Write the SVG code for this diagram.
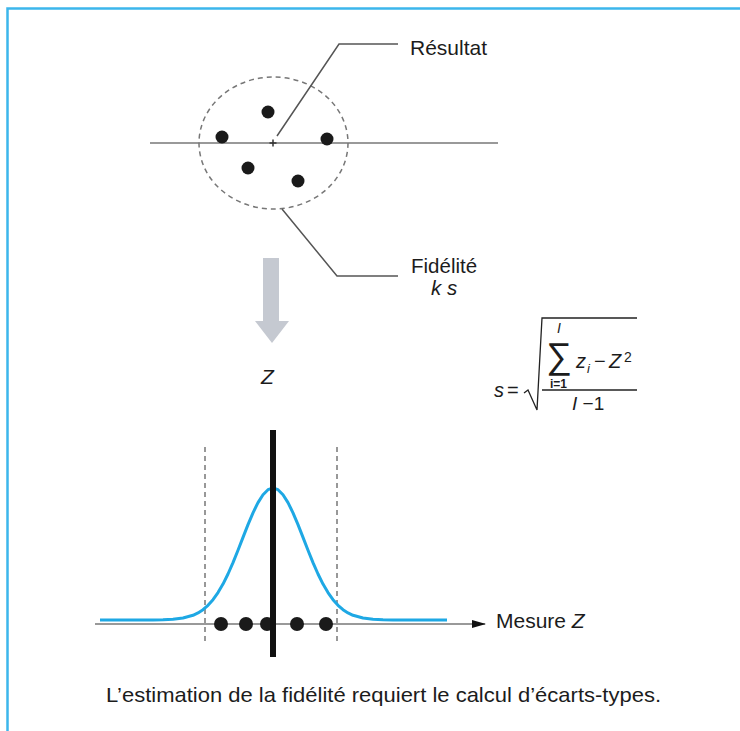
<svg xmlns="http://www.w3.org/2000/svg" width="740" height="731" viewBox="0 0 740 731">
<defs>
<style>
.t{font-family:"Liberation Sans",Arial,sans-serif;fill:#1c1c1c;}
.it{font-style:italic;}
.lead{fill:none;stroke:#555;stroke-width:1.5;}
.axis{fill:none;stroke:#777;stroke-width:1.5;}
.dot{fill:#1a1a1a;}
.dash{fill:none;stroke:#777;stroke-width:1.5;stroke-dasharray:5 4;}
</style>
<marker id="ah" markerWidth="14" markerHeight="10" refX="13" refY="5" orient="auto" markerUnits="userSpaceOnUse">
<path d="M0,1 L14,5 L0,9 Z" fill="#111"/>
</marker>
</defs>
<rect x="0" y="0" width="740" height="731" fill="#fff"/>
<g id="frame">
<path d="M7.5,731 L7.5,8.5 L740,8.5" fill="none" stroke="#3cb6ec" stroke-width="2.5"/>
</g>
<g id="target">
<line class="axis" x1="150" y1="143" x2="498" y2="143"/>
<ellipse cx="273.5" cy="143" rx="74.5" ry="66" class="dash"/>
<circle class="dot" cx="268" cy="112" r="6.5"/>
<circle class="dot" cx="222" cy="137" r="6.5"/>
<circle class="dot" cx="327" cy="139" r="6.5"/>
<circle class="dot" cx="248" cy="168" r="6.5"/>
<circle class="dot" cx="298" cy="181" r="6.5"/>
<path d="M269.5,143 h7 M273,139.5 v7" stroke="#333" stroke-width="1.5"/>
</g>
<g id="connectors">
<path class="lead" d="M277,136 L339,44 L398,44"/>
<path class="lead" d="M282,209 L337,276 L398,276"/>
</g>
<g id="label-resultat">
<text class="t" x="410" y="55" font-size="21">Résultat</text>
</g>
<g id="label-fidelite">
<text class="t" x="411" y="273" font-size="20.5">Fidélité</text>
<text class="t it" x="431" y="295" font-size="20.5">k s</text>
</g>
<g id="gray-arrow">
<polygon points="263,258 279,258 279,321 289,321 272,343 255,321 263,321" fill="#c5c9d1"/>
</g>
<g id="label-z">
<text class="t it" x="261" y="384" font-size="21">Z</text>
</g>
<g id="formula">
<text class="t it" x="494" y="397" font-size="20">s</text>
<text class="t" x="507" y="397" font-size="20">=</text>
<path d="M524,393 L528,390 L537,410 L542,318 L637,318" fill="none" stroke="#222" stroke-width="1.3"/>
<text class="t" x="546" y="368" font-size="36">∑</text>
<text class="t it" x="557" y="333" font-size="14">I</text>
<text class="t" x="550" y="388" font-size="12" font-weight="bold">i=1</text>
<text class="t it" x="576" y="368" font-size="20">z</text>
<text class="t it" x="587" y="373" font-size="13">i</text>
<text class="t" x="594" y="368" font-size="20">−</text>
<text class="t it" x="609" y="368" font-size="20">Z</text>
<text class="t" x="624" y="362" font-size="14">2</text>
<line x1="542" y1="390" x2="637" y2="390" stroke="#222" stroke-width="1.3"/>
<text class="t" x="572" y="410" font-size="19"><tspan class="it">I</tspan> −1</text>
</g>
<g id="distribution">
<line class="dash" x1="205" y1="447" x2="205" y2="642"/>
<line class="dash" x1="337" y1="447" x2="337" y2="642"/>
<polyline fill="none" stroke="#1ea8e4" stroke-width="3" stroke-linejoin="round" points="100,620 153,620 163,619.8 173,619.3 183,618 193,615.3 198,612.9 203,609.7 208,605.3 213,599.7 218,592.6 223,584.1 228,574 233,562.6 238,550.2 243,537.4 248,524.6 253,512.8 258,502.6 263,494.7 268,489.7 273,488 278,489.7 283,494.7 288,502.6 293,512.8 298,524.6 303,537.4 308,550.2 313,562.6 318,574 323,584.1 328,592.6 333,599.7 338,605.3 343,609.7 348,612.9 353,615.3 363,618 373,619.3 383,619.8 393,620 447,620"/>
<line class="axis" x1="95" y1="624" x2="485" y2="624" marker-end="url(#ah)"/>
<circle class="dot" cx="221" cy="624" r="7"/>
<circle class="dot" cx="246" cy="624" r="7"/>
<circle class="dot" cx="267" cy="624" r="7"/>
<circle class="dot" cx="297" cy="624" r="7"/>
<circle class="dot" cx="326" cy="624" r="7"/>
<rect x="270" y="430" width="6" height="227" fill="#111"/>
<text class="t" x="496" y="628" font-size="21">Mesure <tspan class="it">Z</tspan></text>
</g>
<g id="caption">
<text class="t" x="106" y="702" font-size="21" textLength="555" lengthAdjust="spacingAndGlyphs">L’estimation de la fidélité requiert le calcul d’écarts-types.</text>
</g>
</svg>
